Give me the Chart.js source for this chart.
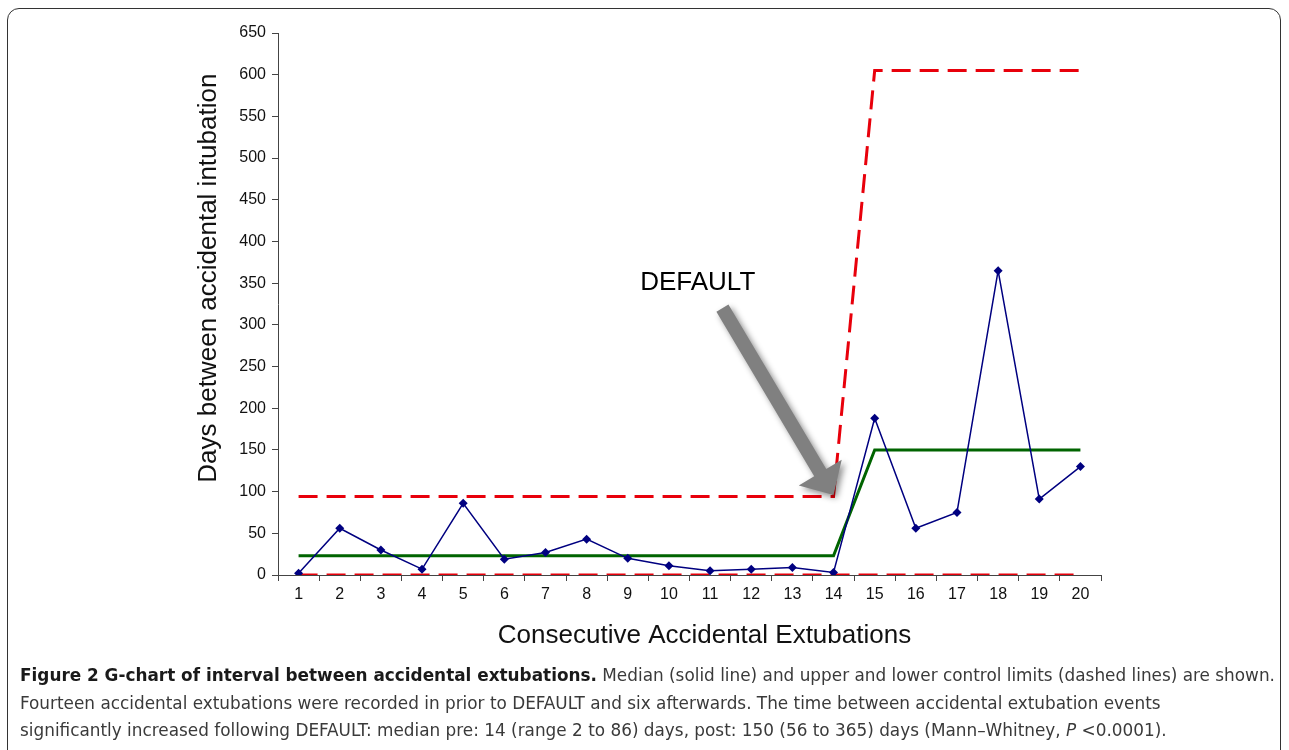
<!DOCTYPE html>
<html><head><meta charset="utf-8">
<script src="https://cdn.jsdelivr.net/npm/chart.js@4"></script>
<style>
html,body{margin:0;padding:0;background:#fff;overflow:hidden;}
#frame{position:absolute;left:7px;top:8px;width:1274px;height:760px;border:1px solid #333;border-radius:12px;box-sizing:border-box;}
#wrap{position:absolute;left:0;top:0;width:1289px;height:665px;}
#cap{position:absolute;left:20px;top:662px;font-family:"DejaVu Sans Condensed","Open Sans",sans-serif;font-size:17px;line-height:27.5px;color:#3a3a3a;}
#cap div{white-space:nowrap;transform-origin:0 0;}
#cap b{color:#1a1a1a;}
</style></head><body>
<div id="frame"></div>
<div id="wrap"><canvas id="c"></canvas></div>
<div id="cap">
<div id="l1"><b>Figure 2 G-chart of interval between accidental extubations.</b> Median (solid line) and upper and lower control limits (dashed lines) are shown.</div>
<div>Fourteen accidental extubations were recorded in prior to DEFAULT and six afterwards. The time between accidental extubation events</div>
<div>significantly increased following DEFAULT: median pre: 14 (range 2 to 86) days, post: 150 (56 to 365) days (Mann–Whitney, <i>P</i> &lt;0.0001).</div>
</div>
<script>
const categories = ['1','2','3','4','5','6','7','8','9','10','11','12','13','14','15','16','17','18','19','20'];
const daysBetween = [2,56,30,7,86,19,27,43,20,11,5,7,9,3,188,56,75,365,91,130];
const median = [23,23,23,23,23,23,23,23,23,23,23,23,23,23,150,150,150,150,150,150];
const upperLimit = [94,94,94,94,94,94,94,94,94,94,94,94,94,94,605,605,605,605,605,605];
const lowerLimit = [0,0,0,0,0,0,0,0,0,0,0,0,0,0,0,0,0,0,0,0];
const yTitle = 'Days between accidental intubation';
const xTitle = 'Consecutive Accidental Extubations';
const annotationText = 'DEFAULT';
const annotationTextPos = [9.7, 350];   // [category index, value]
const arrowTail = [10.3, 320];
const arrowTip = [13.0, 96];

(function(){
  const l1 = document.getElementById('l1');
  const k = 1255 / l1.scrollWidth;
  document.querySelectorAll('#cap div').forEach(d => d.style.transform = 'scaleX(' + k + ')');
})();

const FONT = '"Liberation Sans", Arial, sans-serif';

const arrowPlugin = {
  id:'arrow',
  afterDatasetsDraw(chart){
    const {ctx, chartArea, scales:{x,y}} = chart;
    const tx = x.getPixelForValue(arrowTail[0]), ty = y.getPixelForValue(arrowTail[1]);
    const hx = x.getPixelForValue(arrowTip[0]), hy = y.getPixelForValue(arrowTip[1]);
    const dx = hx-tx, dy = hy-ty, L = Math.hypot(dx,dy);
    const ux = dx/L, uy = dy/L, px = -uy, py = ux;
    const sw = 7, hw = 25, hl = 26;
    const bx = hx-ux*hl, by = hy-uy*hl;
    ctx.save();
    ctx.shadowColor='rgba(0,0,0,0.45)'; ctx.shadowBlur=6; ctx.shadowOffsetX=3; ctx.shadowOffsetY=3;
    ctx.fillStyle='#808080';
    ctx.beginPath();
    ctx.moveTo(tx+px*sw, ty+py*sw);
    ctx.lineTo(bx+px*sw, by+py*sw);
    ctx.lineTo(bx+px*hw, by+py*hw);
    ctx.lineTo(hx, hy);
    ctx.lineTo(bx-px*hw, by-py*hw);
    ctx.lineTo(bx-px*sw, by-py*sw);
    ctx.lineTo(tx-px*sw, ty-py*sw);
    ctx.closePath(); ctx.fill();
    ctx.restore();
    ctx.save();
    ctx.fillStyle='#000'; ctx.font='26px ' + FONT;
    ctx.textAlign='center'; ctx.textBaseline='middle';
    ctx.fillText(annotationText, x.getPixelForValue(annotationTextPos[0]), y.getPixelForValue(annotationTextPos[1]));
    ctx.fillStyle='#111';
    // x axis title, slightly right of the axis centre as in the original
    ctx.fillText(xTitle, (chartArea.left + chartArea.right)/2 + 15, chartArea.bottom + 61);
    // y axis title, slightly above the axis centre
    ctx.translate(y.left + 21, y.getPixelForValue(356));
    ctx.rotate(-Math.PI/2);
    ctx.fillText(yTitle, 0, 0);
    ctx.restore();
  }
};

new Chart(document.getElementById('c'), {
  type:'line',
  data:{labels:categories, datasets:[
    {data:upperLimit, borderColor:'#e8000b', borderWidth:3, borderDash:[19,9], pointRadius:0, fill:false, tension:0, order:3},
    {data:lowerLimit, borderColor:'#e8000b', borderWidth:3, borderDash:[19,9], pointRadius:0, fill:false, tension:0, order:3},
    {data:median, borderColor:'#006400', borderWidth:3, pointRadius:0, fill:false, tension:0, order:2},
    {data:daysBetween, borderColor:'#000080', backgroundColor:'#000080', borderWidth:1.5, pointStyle:'rectRot', pointRadius:4.5, pointBorderWidth:0, fill:false, tension:0, order:1}
  ]},
  options:{
    responsive:true, maintainAspectRatio:false, animation:false,
    layout:{padding:{left:188, right:188, top:33, bottom:12}},
    plugins:{legend:{display:false}, tooltip:{enabled:false}},
    scales:{
      x:{offset:true,
        grid:{offset:true, drawOnChartArea:false, drawTicks:true, tickLength:6, color:'#444'},
        border:{color:'#444', width:1},
        ticks:{color:'#111', font:{family:FONT, size:16}, padding:4, maxRotation:0},
        title:{display:false},
        afterFit(s){ s.height = 78; }
      },
      y:{min:0, max:650,
        grid:{drawOnChartArea:false, drawTicks:true, tickLength:6, color:'#444'},
        border:{color:'#444', width:1},
        ticks:{stepSize:50, color:'#111', font:{family:FONT, size:16}, padding:6},
        title:{display:false},
        afterFit(s){ s.width = 90; }
      }
    }
  },
  plugins:[arrowPlugin]
});
</script>
</body></html>
